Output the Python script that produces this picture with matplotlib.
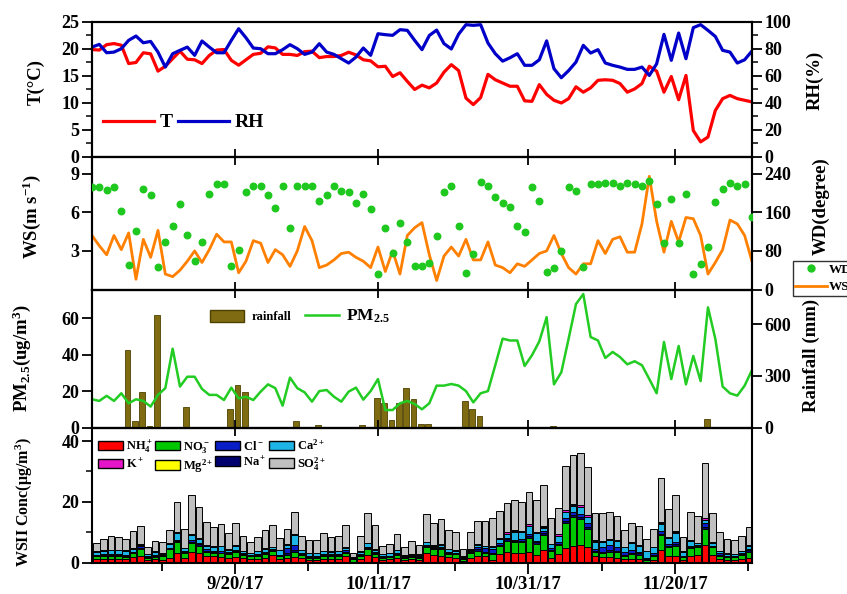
import numpy as np
import matplotlib
matplotlib.use('Agg')
import matplotlib.pyplot as plt
from matplotlib.lines import Line2D
from matplotlib.patches import Patch

plt.rcParams['font.family'] = 'Liberation Serif'
plt.rcParams['font.weight'] = 'bold'
plt.rcParams['axes.labelweight'] = 'bold'
plt.rcParams['mathtext.fontset'] = 'custom'
plt.rcParams['mathtext.rm'] = 'Liberation Serif:bold'
plt.rcParams['mathtext.it'] = 'Liberation Serif:bold'
plt.rcParams['mathtext.bf'] = 'Liberation Serif:bold'
plt.rcParams['mathtext.default'] = 'rm'
plt.rcParams['axes.linewidth'] = 1.5

#---------- data (day index 0..90) ----------
T = [19.9, 19.8, 20.8, 21.0, 20.7, 17.3, 17.5, 19.3, 19.1, 15.9,
     16.8, 18.2, 19.6, 18.1, 18.0, 17.3, 18.8, 19.8, 19.9, 17.9,
     17.0, 18.0, 19.0, 19.2, 20.4, 20.2, 19.0, 19.0, 18.8, 19.5,
     19.6, 18.4, 18.6, 18.6, 18.8, 19.4, 18.9, 18.0, 17.8, 16.7,
     16.8, 14.9, 15.6, 14.0, 12.5, 13.3, 12.8, 13.7, 15.7, 17.1,
     16.0, 10.9, 9.7, 11.0, 15.3, 14.3, 13.7, 13.1, 13.1, 10.4,
     10.3, 13.4, 11.6, 10.5, 10.0, 10.8, 13.0, 12.0, 12.8, 14.2,
     14.3, 14.2, 13.6, 12.0, 12.6, 13.6, 16.8, 15.9, 12.0, 14.9,
     10.6, 15.1, 4.9, 2.8, 3.7, 8.6, 10.8, 11.4, 10.8, 10.5,
     10.2]
RH = [81.4, 83.4, 77.2, 77.7, 80.2, 86.4, 89.6, 84.6, 85.6, 77.7,
      66.6, 76.5, 79.0, 81.4, 75.3, 85.9, 81.4, 77.2, 77.2, 86.4,
      95.0, 88.3, 80.7, 80.2, 76.5, 76.5, 79.5, 83.2, 80.2, 76.0,
      77.7, 83.9, 77.7, 76.0, 72.8, 69.6, 74.0, 80.7, 75.3, 91.3,
      90.6, 90.1, 94.3, 93.8, 86.4, 79.5, 90.0, 94.0, 84.0, 80.0,
      91.0, 98.0, 97.5, 98.0, 84.4, 76.5, 71.0, 73.5, 76.5, 67.9,
      67.9, 72.0, 86.0, 65.4, 58.7, 64.0, 70.3, 82.7, 77.0, 79.5,
      69.6, 67.9, 66.6, 64.9, 64.9, 66.6, 60.4, 69.0, 90.8, 71.6,
      91.8, 72.8, 95.8, 98.0, 93.8, 89.3, 79.0, 77.7, 69.6, 72.0,
      78.5]
WS = [4.2, 3.4, 2.7, 4.2, 3.1, 4.4, 0.8, 3.9, 2.5, 4.6,
      1.2, 1.0, 1.5, 2.2, 3.0, 2.1, 3.1, 4.3, 3.7, 3.7,
      1.3, 2.2, 3.8, 3.6, 2.1, 3.1, 2.7, 1.8, 3.0, 4.9,
      3.8, 1.7, 1.9, 2.3, 2.8, 2.9, 2.5, 2.2, 1.7, 3.3,
      1.4, 3.0, 1.2, 4.2, 4.8, 5.2, 2.7, 0.7, 2.6, 3.3,
      2.6, 3.9, 2.3, 2.3, 3.7, 1.9, 1.7, 1.3, 2.0, 1.8,
      2.3, 2.8, 3.0, 4.2, 2.8, 1.7, 1.2, 2.0, 2.0, 3.8,
      2.8, 3.9, 4.1, 2.9, 2.9, 5.1, 8.8, 5.3, 2.9, 5.3,
      3.7, 5.6, 5.5, 4.2, 1.2, 2.1, 3.1, 5.4, 5.1, 4.2,
      2.2]
WD = [212, 212, 207, 213, 163, 50, 121, 209, 196, 47,
      99, 131, 177, 113, 59, 99, 198, 219, 219, 48,
      82, 203, 215, 215, 196, 169, 214, 127, 215, 215,
      215, 184, 197, 214, 205, 203, 179, 198, 168, 33,
      127, 76, 139, 99, 48, 48, 55, 111, 203, 215,
      132, 35, 74, 224, 214, 191, 179, 172, 132, 120,
      212, 184, 37, 45, 80, 213, 205, 46, 219, 218,
      220, 222, 214, 220, 218, 215, 226, 177, 97, 188,
      97, 199, 33, 52, 88, 181, 208, 222, 215, 219,
      151]
PM25 = [15.5, 14.6, 17.4, 14.6, 18.8, 13.3, 15.5, 14.6, 11.5, 17.9,
        21.6, 43.3, 22.5, 27.9, 27.9, 21.2, 17.9, 17.9, 15.1, 21.9,
        16.0, 16.9, 15.1, 19.7, 23.7, 21.6, 12.0, 27.4, 21.6, 19.3,
        14.2, 20.0, 20.6, 16.9, 14.2, 19.7, 21.9, 15.3, 20.0, 26.6,
        9.6, 9.6, 13.3, 14.6, 12.9, 10.0, 13.3, 23.0, 23.0, 23.9,
        23.0, 20.0, 13.8, 18.8, 20.0, 34.3, 48.8, 47.8, 47.8, 33.8,
        39.7, 47.3, 60.6, 23.7, 30.3, 48.8, 67.8, 73.3, 49.7, 47.8,
        38.2, 41.5, 38.7, 34.7, 36.4, 34.2, 26.6, 18.8, 47.0, 26.6,
        44.8, 23.7, 39.3, 25.5, 66.0, 48.8, 22.5, 18.8, 17.5, 23.0,
        31.5]
rainfall = [0, 0, 0, 0, 449, 39, 203, 10, 653, 0,
            0, 0, 120, 0, 0, 0, 0, 0, 110, 248,
            203, 0, 0, 0, 0, 0, 0, 35, 0, 0,
            17, 0, 0, 0, 0, 0, 17, 0, 172, 142,
            45, 142, 229, 165, 23, 20, 0, 0, 0, 5,
            155, 110, 64, 0, 0, 0, 0, 0, 0, 0,
            0, 5, 8, 0, 0, 0, 0, 0, 0, 0,
            0, 0, 0, 0, 0, 0, 0, 0, 0, 0,
            0, 0, 0, 52, 0, 0, 0, 0, 0, 0]

# water soluble inorganic ions, one bar per day (ug/m3)
NH4 = [1.2, 1.2, 1.3, 1.2, 1.0, 1.8, 2.3, 0.8, 1.0, 0.8,
       1.5, 3.3, 1.6, 3.6, 3.2, 2.2, 2.0, 1.8, 1.6, 1.8,
       1.4, 1.0, 1.3, 1.6, 2.6, 1.1, 1.6, 1.8, 1.4, 0.9,
       0.9, 1.3, 1.3, 1.3, 2.0, 0.3, 1.2, 2.6, 1.8, 0.9,
       1.0, 1.6, 0.7, 1.0, 0.9, 3.0, 2.4, 2.3, 1.8, 1.6,
       0.5, 1.4, 2.2, 2.0, 0.8, 2.7, 3.4, 3.1, 3.2, 3.4,
       2.6, 4.2, 1.6, 2.7, 4.8, 5.3, 5.8, 5.0, 2.0, 1.8,
       1.8, 1.6, 1.2, 1.0, 1.0, 0.3, 0.8, 4.0, 2.2, 2.3,
       0.8, 2.3, 2.6, 5.9, 2.6, 1.0, 0.8, 0.8, 1.2, 1.4]
NO3 = [0.8, 0.9, 0.9, 0.9, 0.8, 1.2, 2.2, 0.7, 0.9, 1.2,
       2.8, 3.3, 1.6, 2.8, 2.4, 1.4, 1.3, 1.2, 1.2, 1.8,
       1.0, 1.0, 1.0, 1.2, 1.2, 0.9, 0.9, 1.8, 1.0, 0.6,
       0.7, 1.0, 0.9, 1.0, 1.3, 0.7, 0.9, 1.8, 1.0, 0.6,
       0.7, 0.9, 0.8, 0.8, 0.6, 2.0, 2.1, 2.2, 1.0, 1.1,
       0.6, 1.6, 1.6, 1.0, 2.0, 2.7, 3.8, 3.6, 3.5, 4.8,
       3.6, 5.0, 2.2, 3.1, 8.2, 9.8, 8.5, 6.2, 1.5, 1.4,
       1.8, 1.8, 1.0, 1.8, 1.6, 0.6, 1.4, 5.0, 3.0, 3.2,
       0.9, 2.4, 2.4, 5.2, 2.4, 1.3, 0.9, 0.9, 1.2, 2.2]
Na = [0.3, 0.3, 0.3, 0.3, 0.3, 0.3, 0.4, 0.2, 0.3, 0.4,
      0.3, 0.4, 0.3, 0.4, 0.4, 0.3, 0.3, 0.3, 0.3, 0.3,
      0.3, 0.3, 0.3, 0.3, 0.3, 0.3, 0.5, 0.4, 0.3, 0.3,
      0.3, 0.3, 0.3, 0.3, 0.3, 0.2, 0.3, 0.3, 0.3, 0.3,
      0.3, 0.3, 0.3, 0.3, 0.3, 0.4, 0.3, 0.3, 0.3, 0.3,
      0.4, 0.4, 0.6, 0.5, 0.5, 0.4, 0.4, 0.4, 0.5, 0.5,
      0.4, 0.5, 0.4, 0.4, 0.6, 0.6, 0.6, 0.5, 0.3, 0.4,
      0.5, 0.4, 0.4, 0.4, 0.4, 0.3, 0.4, 0.5, 0.4, 0.5,
      0.3, 0.3, 0.3, 0.6, 0.3, 0.3, 0.3, 0.3, 0.3, 0.4]
Cl = [0.3, 0.3, 0.3, 0.3, 0.3, 0.3, 0.4, 0.3, 0.3, 0.4,
      0.3, 0.4, 0.3, 0.5, 0.4, 0.4, 0.3, 0.4, 0.3, 0.3,
      0.3, 0.3, 0.3, 0.3, 0.3, 0.3, 1.8, 1.8, 0.3, 0.3,
      0.3, 0.3, 0.3, 0.3, 0.4, 0.2, 0.3, 0.4, 0.3, 0.3,
      0.3, 0.3, 0.3, 0.3, 0.3, 0.4, 0.3, 0.4, 0.4, 0.3,
      0.3, 0.5, 0.8, 1.2, 1.0, 0.5, 0.4, 0.4, 0.6, 0.8,
      0.5, 0.8, 0.6, 0.4, 1.0, 1.0, 1.2, 1.2, 0.5, 1.4,
      1.6, 1.4, 1.0, 0.8, 0.6, 0.3, 0.6, 0.8, 0.5, 0.6,
      0.3, 0.5, 0.4, 1.2, 0.3, 0.4, 0.3, 0.3, 0.3, 0.4]
Ca = [0.9, 1.2, 1.3, 1.3, 1.5, 1.0, 0.6, 0.8, 1.0, 0.2,
      1.2, 2.2, 0.9, 1.8, 1.3, 1.2, 1.3, 1.6, 0.8, 1.3,
      0.8, 0.5, 0.8, 1.2, 0.6, 1.4, 0.9, 3.2, 1.0, 0.9,
      0.8, 0.9, 0.7, 0.8, 0.9, 0.2, 0.9, 1.2, 0.8, 0.6,
      0.7, 0.9, 0.3, 0.4, 0.4, 0.8, 0.5, 0.6, 0.8, 0.6,
      0.2, 0.3, 0.7, 0.6, 0.8, 1.3, 1.5, 2.7, 2.2, 2.5,
      2.5, 1.0, 1.2, 2.2, 2.0, 2.0, 2.2, 2.0, 2.6, 1.6,
      1.6, 1.8, 1.4, 2.4, 2.0, 2.2, 1.8, 2.5, 2.0, 3.2,
      1.2, 1.6, 0.6, 1.0, 0.8, 0.8, 0.6, 0.5, 0.8, 1.2]
Mg = [0.05, 0.05, 0.05, 0.05, 0.05, 0.05, 0.05, 0.05, 0.05, 0.05,
      0.05, 0.1, 0.05, 0.1, 0.05, 0.05, 0.05, 0.05, 0.05, 0.05,
      0.05, 0.05, 0.05, 0.05, 0.05, 0.05, 0.05, 0.05, 0.05, 0.05,
      0.05, 0.05, 0.05, 0.05, 0.05, 0.05, 0.05, 0.05, 0.05, 0.05,
      0.05, 0.05, 0.05, 0.05, 0.05, 0.05, 0.05, 0.05, 0.05, 0.05,
      0.05, 0.05, 0.05, 0.05, 0.05, 0.05, 0.05, 0.1, 0.1, 0.1,
      0.1, 0.1, 0.05, 0.05, 0.1, 0.1, 0.1, 0.1, 0.05, 0.05,
      0.05, 0.05, 0.05, 0.05, 0.05, 0.05, 0.05, 0.1, 0.05, 0.1,
      0.05, 0.05, 0.05, 0.1, 0.05, 0.05, 0.05, 0.05, 0.05, 0.05]
K = [0.1, 0.1, 0.1, 0.1, 0.1, 0.1, 0.2, 0.1, 0.1, 0.1,
     0.2, 0.3, 0.1, 0.3, 0.2, 0.2, 0.2, 0.2, 0.1, 0.2,
     0.1, 0.1, 0.1, 0.1, 0.1, 0.1, 0.2, 0.3, 0.1, 0.1,
     0.1, 0.1, 0.1, 0.1, 0.2, 0.1, 0.1, 0.2, 0.1, 0.1,
     0.1, 0.1, 0.1, 0.1, 0.1, 0.2, 0.2, 0.2, 0.2, 0.1,
     0.1, 0.1, 0.2, 0.2, 0.2, 0.3, 0.4, 0.4, 0.3, 0.5,
     0.4, 0.3, 0.2, 0.4, 0.6, 0.6, 0.6, 0.5, 0.4, 0.3,
     0.3, 0.3, 0.2, 0.2, 0.2, 0.1, 0.2, 0.6, 0.4, 0.5,
     0.2, 0.3, 0.2, 0.8, 0.2, 0.1, 0.1, 0.1, 0.1, 0.2]
SO4 = [2.75, 3.85, 4.45, 4.25, 3.65, 5.55, 6.05, 2.15, 3.45, 3.65,
       4.35, 10.1, 6.15, 12.7, 10.25, 7.55, 6.35, 7.25, 5.25, 7.35,
       4.95, 3.35, 4.55, 5.95, 7.15, 4.05, 5.25, 7.45, 4.55, 4.15,
       4.15, 5.65, 4.75, 4.85, 7.25, 1.55, 4.95, 9.85, 7.95, 2.75,
       3.05, 5.15, 2.55, 4.15, 3.15, 9.15, 7.05, 8.15, 6.15, 5.95,
       2.45, 5.55, 7.65, 8.05, 9.25, 8.95, 9.65, 10.0, 9.7, 10.6,
       10.6, 13.7, 8.45, 8.75, 14.5, 15.9, 17.0, 16.1, 9.05, 9.45,
       9.15, 7.95, 5.45, 6.45, 6.15, 3.95, 5.85, 14.2, 9.25, 11.8,
       4.65, 9.35, 8.75, 17.9, 9.55, 6.05, 4.75, 4.35, 4.95, 5.95]

date_ticks = [19.5, 39.0, 59.5, 79.5]
date_labels = ['9/20/17', '10/11/17', '10/31/17', '11/20/17']
minor_date_ticks = [9.5, 29.5, 49.5, 69.5, 89.5]

days = np.arange(len(T))
bar_days = np.arange(len(NH4))

#---------- figure ----------
fig = plt.figure(figsize=(8.47, 5.94), dpi=100)
L, W = 0.1086, 0.7792
ax1 = fig.add_axes([L, 0.7357, W, 0.2273])
ax2 = fig.add_axes([L, 0.5126, W, 0.2231])
ax3 = fig.add_axes([L, 0.2803, W, 0.2323])
ax4 = fig.add_axes([L, 0.0530, W, 0.2273])

def style_y(ax):
    ax.tick_params(axis='y', which='major', direction='out', length=7, width=1.3,
                   labelsize=13, pad=2)
    ax.tick_params(axis='y', which='minor', direction='out', length=4, width=1.1)

for ax in (ax1, ax2, ax3, ax4):
    ax.set_xlim(0, 90)
    ax.set_xticks(date_ticks)

for ax in (ax1, ax2, ax3):
    ax.tick_params(axis='x', which='major', direction='in', length=6, width=1.3,
                   top=True, bottom=True, labelbottom=False)
ax1.tick_params(axis='x', top=False)

# panel 1 : T & RH
lT, = ax1.plot(days, T, color='#ff0000', lw=2.3)
ax1r = ax1.twinx()
lRH, = ax1r.plot(days, RH, color='#0000c8', lw=2.3)
ax1.set_ylim(0, 25)
ax1r.set_ylim(0, 100)
ax1.set_yticks(np.arange(0, 26, 5))
ax1.set_yticks(np.arange(2.5, 25, 5), minor=True)
ax1r.set_yticks(np.arange(0, 101, 20))
ax1r.set_yticks(np.arange(10, 100, 20), minor=True)
ax1.set_ylabel('T(°C)', fontsize=13.5)
ax1.yaxis.set_label_coords(-0.071, 0.556)
ax1r.set_ylabel('RH(%)', fontsize=13.5)
ax1r.yaxis.set_label_coords(1.083, 0.57)
ax1.legend([lT, lRH], ['T', 'RH'], loc='lower left', bbox_to_anchor=(0.017, 0.19),
           ncol=2, frameon=False, fontsize=14, handlelength=2.6, handletextpad=0.3,
           columnspacing=0.3, borderpad=0, borderaxespad=0)

# panel 2 : WS & WD
lWS, = ax2.plot(days, WS, color='#ff8000', lw=2.0)
ax2r = ax2.twinx()
ax2r.scatter(days, WD, s=22, color='#1ec81e', zorder=3)
ax2.set_ylim(0, 10.3)
ax2r.set_ylim(0, 275)
ax2.set_yticks([3, 6, 9])
ax2r.set_yticks([0, 80, 160, 240])
ax2.set_ylabel('WS(m s$^{-1}$)', fontsize=13.5)
ax2.yaxis.set_label_coords(-0.074, 0.55)
ax2r.set_ylabel('WD(degree)', fontsize=13.5)
ax2r.yaxis.set_label_coords(1.092, 0.63)
wd_handle = Line2D([], [], ls='none', marker='o', markersize=5, color='#1ec81e')
leg2 = fig.legend([wd_handle, lWS], ['WD', 'WS'], loc='upper left',
                  bbox_to_anchor=(0.936, 0.561), fontsize=9.5, frameon=True,
                  fancybox=False, edgecolor='black', handlelength=2.4,
                  handletextpad=0.1, borderpad=0.2, borderaxespad=0, labelspacing=0.4)
leg2.get_frame().set_linewidth(1.0)

# panel 3 : PM2.5 & rainfall
ax3r = ax3.twinx()
ax3r.bar(bar_days + 0.85, rainfall, width=0.75, color='#7f6c12', edgecolor='#4d4000', lw=0.6)
lPM, = ax3.plot(days, PM25, color='#22cc22', lw=1.8)
ax3.set_zorder(ax3r.get_zorder() + 1)
ax3.patch.set_visible(False)
ax3.set_ylim(0, 75.8)
ax3r.set_ylim(0, 800)
ax3.set_yticks([0, 20, 40, 60])
ax3r.set_yticks([0, 300, 600])
ax3.set_ylabel('PM$_{2.5}$(ug/m$^3$)', fontsize=13.5)
ax3.yaxis.set_label_coords(-0.09, 0.5)
ax3r.set_ylabel('Rainfall (mm)', fontsize=13.5)
ax3r.yaxis.set_label_coords(1.077, 0.52)
rain_handle = Patch(facecolor='#7f6c12', edgecolor='#4d4000')
leg3 = ax3.legend([rain_handle, lPM], ['rainfall', 'PM$_{2.5}$'], loc='upper left',
                  bbox_to_anchor=(0.179, 0.87), ncol=2, frameon=False, fontsize=9,
                  handlelength=2.7, handleheight=1.1, handletextpad=0.6,
                  columnspacing=1.1, borderpad=0, borderaxespad=0)
leg3.get_texts()[1].set_fontsize(12.5)

# panel 4 : stacked WSII
ions = [(NH4, '#ff0000', 'NH$_4^+$'), (NO3, '#00c800', 'NO$_3^-$'),
        (Na, '#00006e', 'Na$^+$'), (Cl, '#0a1ec8', 'Cl$^-$'),
        (Ca, '#1eb4e6', 'Ca$^{2+}$'), (Mg, '#ffff00', 'Mg$^{2+}$'),
        (K, '#e614c8', 'K$^+$'), (SO4, '#c0c0c0', 'SO$_4^{2+}$')]
bottom = np.zeros(len(NH4))
handles = {}
for vals, col, lab in ions:
    vals = np.array(vals)
    ax4.bar(bar_days + 0.6, vals, width=0.88, bottom=bottom, color=col,
            edgecolor='black', lw=0.7)
    handles[lab] = Patch(facecolor=col, edgecolor='black', lw=1.0)
    bottom += vals
order = ['NH$_4^+$', 'K$^+$', 'NO$_3^-$', 'Mg$^{2+}$', 'Cl$^-$', 'Na$^+$',
         'Ca$^{2+}$', 'SO$_4^{2+}$']
ax4.legend([handles[o] for o in order], order, loc='upper left',
           bbox_to_anchor=(0.009, 0.92), ncol=4, frameon=False, fontsize=9,
           handlelength=2.0, handleheight=0.8, handletextpad=0.25,
           columnspacing=0.15, labelspacing=0.2, borderpad=0, borderaxespad=0)
ax4.set_ylim(0, 44.5)
ax4.set_yticks([0, 20, 40])
ax4.set_yticks([10, 30], minor=True)
ax4.set_ylabel('WSII Conc(μg/m$^3$)', fontsize=11.5)
ax4.yaxis.set_label_coords(-0.086, 0.45)
ax4.set_xticks(date_ticks, date_labels)
ax4.set_xticks(minor_date_ticks, minor=True)
ax4.tick_params(axis='x', which='major', direction='out', length=8, width=1.3,
                labelsize=13.5, pad=2, top=False)
ax4.tick_params(axis='x', which='minor', direction='out', length=6, width=1.3, top=False)
sec = ax4.secondary_xaxis('top')
sec.set_xticks(date_ticks)
sec.tick_params(axis='x', direction='in', length=6, width=1.3, labeltop=False)

for ax in (ax1, ax2, ax3, ax4, ax1r, ax2r, ax3r):
    style_y(ax)

fig.savefig('out.png', dpi=100)
